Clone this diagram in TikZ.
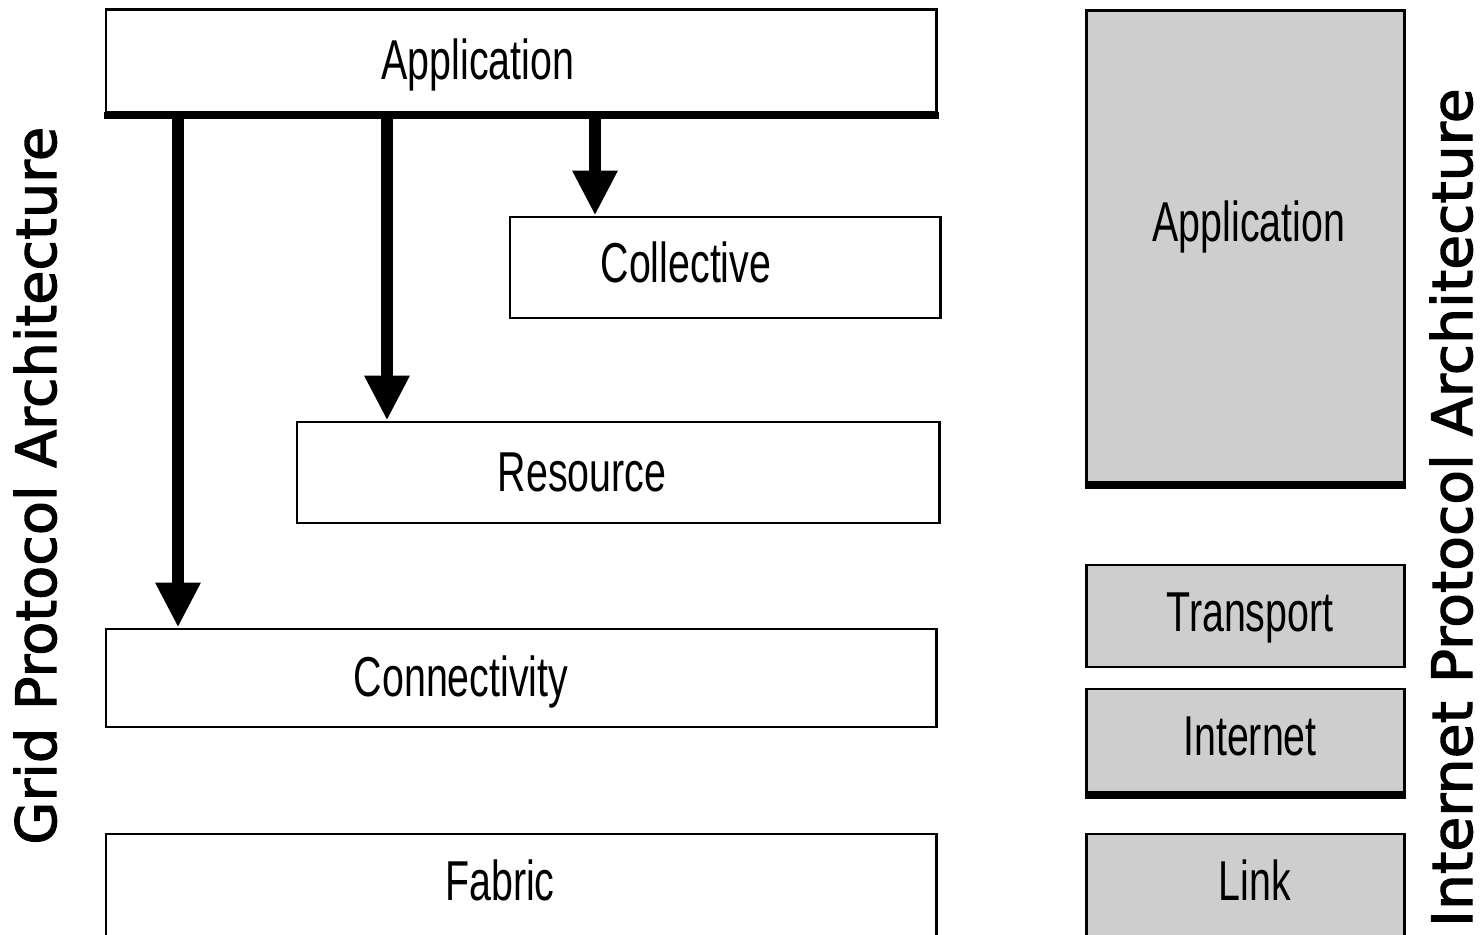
\documentclass[tikz,border=0pt]{standalone}
\usepackage{fontspec}
\usepackage{graphicx}
\setmainfont{Liberation Sans}
\newfontfamily\sidefont[FakeBold=2]{DejaVu Sans}
\usetikzlibrary{arrows.meta,fit}
\definecolor{layergray}{RGB}{206,206,206}

\begin{document}
\begin{tikzpicture}[x=0.02cm,y=-0.02cm,
  box/.style={draw=black, line width=1.7pt, inner sep=0pt, fill=white},
  graybox/.style={box, fill=layergray},
  heavyedge/.style={line width=4pt},
  lbl/.style={anchor=base, inner sep=0pt, font=\fontsize{32}{36}\selectfont},
  side/.style={rotate=90, inner sep=0pt, font=\sidefont\fontsize{31.7}{36}\selectfont},
  down/.style={line width=6.8pt, -{Triangle[width=24pt,length=25.5pt]}}]

\useasboundingbox (0,0) rectangle (1482,935);
\clip (0,0) rectangle (1482,935);

% grid protocol layers
\node[box, fit={(106,10) (936,112)}] (gapp) {};
\node[box, fit={(510,217) (940,318)}] (gcoll) {};
\node[box, fit={(297,422) (939,523)}] (gres) {};
\node[box, fit={(106,629) (936,727)}] (gconn) {};
\node[box, fit={(106,834) (936,940)}] (gfab) {};
\draw[heavyedge] ([xshift=-0.02cm,yshift=-0.04cm]gapp.south west) -- ([xshift=0.02cm,yshift=-0.04cm]gapp.south east);

\node[lbl] (tgapp)  at (478,80)  {\scalebox{0.7}[1]{Application}};
\node[lbl] (tgcoll) at (686,283) {\scalebox{0.7}[1]{Collective}};
\node[lbl] (tgres)  at (582,492) {\scalebox{0.7}[1]{Resource}};
\node[lbl] (tgconn) at (461,697) {\scalebox{0.7}[1]{Connectivity}};
\node[lbl] (tgfab)  at (500,901) {\scalebox{0.7}[1]{Fabric}};

% application reaches every lower layer directly
\draw[down] (gapp.south -| 595,0) -- (gcoll.north -| 595,0);
\draw[down] (gapp.south -| 387,0) -- (gres.north -| 387,0);
\draw[down] (gapp.south -| 178,0) -- (gconn.north -| 178,0);

% internet protocol layers
\node[graybox, fit={(1086,11) (1404,482)}] (iapp) {};
\node[graybox, fit={(1086,565) (1404,667)}] (itrans) {};
\node[graybox, fit={(1086,689) (1404,792)}] (inet) {};
\node[graybox, fit={(1086,834) (1404,940)}] (ilink) {};
\draw[heavyedge] ([yshift=-0.04cm]iapp.south west) -- ([yshift=-0.04cm]iapp.south east);
\draw[heavyedge] ([yshift=-0.04cm]inet.south west) -- ([yshift=-0.04cm]inet.south east);

\node[lbl] (tiapp)   at (1249,242) {\scalebox{0.7}[1]{Application}};
\node[lbl] (titrans) at (1250,632) {\scalebox{0.7}[1]{Transport}};
\node[lbl] (tinet)   at (1250,756) {\scalebox{0.7}[1]{Internet}};
\node[lbl] (tilink)  at (1255,901) {\scalebox{0.7}[1]{Link}};

% vertical titles
\node[side, anchor=base west] (gtitle) at (56,845) {Grid Protocol Architecture};
\node[side, anchor=base east] (ititle) at (1472,88) {\scalebox{1.02}[1]{Internet Protocol Architecture}};
\end{tikzpicture}
\end{document}
